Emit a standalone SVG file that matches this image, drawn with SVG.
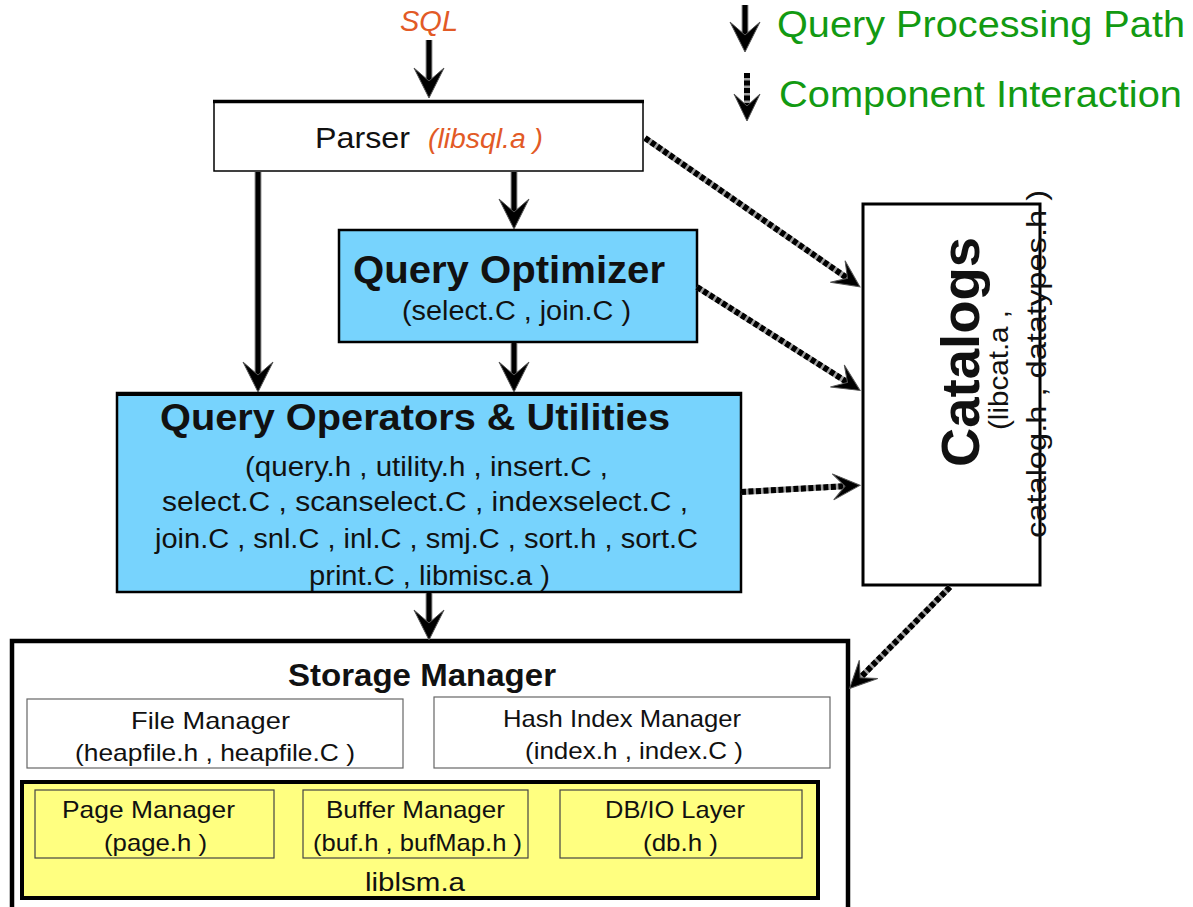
<svg xmlns="http://www.w3.org/2000/svg" width="1193" height="907" viewBox="0 0 1193 907">
<style>
text{font-family:"Liberation Sans",Arial,sans-serif;fill:#111}
.b{font-weight:bold}
.or{fill:#E25A26;font-style:italic}
.gr{fill:#129A12}
.solid{stroke:#000;stroke-width:5;fill:none}
.solidbg{stroke:#9a9a9a;stroke-width:7;fill:none}
.dotbg{stroke:#a0a0a0;stroke-width:6;fill:none}
.dot{stroke:#000;stroke-width:6;stroke-dasharray:5 2.5;fill:none}
.blue{fill:#77D3FD}
.yel{fill:#FFFF80}
</style>
<defs>
<marker id="hs" viewBox="-32 -17 34 34" refX="-14" refY="0" markerWidth="34" markerHeight="34" markerUnits="userSpaceOnUse" orient="auto">
<path d="M0,0 L-30,-15 L-17,0 L-30,15 Z" fill="#000" stroke="#555" stroke-width="1"/>
</marker>
<marker id="hd" viewBox="-30 -15 32 30" refX="-12" refY="0" markerWidth="32" markerHeight="30" markerUnits="userSpaceOnUse" orient="auto">
<path d="M0,0 L-27,-13 L-15,0 L-27,13 Z" fill="#000" stroke="#555" stroke-width="1"/>
</marker>
</defs>

<g id="legend">
<line class="solidbg" x1="745" y1="5" x2="745" y2="38"/>
<line class="solid" x1="745" y1="5" x2="745" y2="38" marker-end="url(#hs)"/>
<text class="gr" x="777" y="37" font-size="37" textLength="408" lengthAdjust="spacingAndGlyphs">Query Processing Path</text>
<line class="dotbg" x1="747" y1="73" x2="747" y2="109"/>
<line class="dot" x1="747" y1="73" x2="747" y2="109" marker-end="url(#hd)"/>
<text class="gr" x="779" y="107" font-size="37" textLength="403" lengthAdjust="spacingAndGlyphs">Component Interaction</text>
</g>

<g id="sql">
<text class="or" x="400" y="31" font-size="29" textLength="58" lengthAdjust="spacingAndGlyphs">SQL</text>
</g>

<g id="parser">
<rect x="214" y="101" width="429" height="70" fill="#fff" stroke="#000" stroke-width="1.5"/>
<line x1="213" y1="101.5" x2="644" y2="101.5" stroke="#000" stroke-width="3.5"/>
<text x="315" y="148" font-size="30" textLength="95" lengthAdjust="spacingAndGlyphs">Parser</text>
<text class="or" x="428" y="148" font-size="27" textLength="115" lengthAdjust="spacingAndGlyphs">(libsql.a )</text>
</g>

<g id="optimizer">
<rect class="blue" x="339" y="230" width="358" height="112" stroke="#000" stroke-width="2.5"/>
<text class="b" x="353" y="283" font-size="38" textLength="312" lengthAdjust="spacingAndGlyphs">Query Optimizer</text>
<text x="402" y="320" font-size="27" textLength="229" lengthAdjust="spacingAndGlyphs">(select.C , join.C )</text>
</g>

<g id="operators">
<rect class="blue" x="117" y="393" width="624" height="199" stroke="#000" stroke-width="2.5"/>
<line x1="116" y1="394" x2="742" y2="394" stroke="#000" stroke-width="4"/>
<text class="b" x="160" y="430" font-size="37" textLength="510" lengthAdjust="spacingAndGlyphs">Query Operators &amp; Utilities</text>
<text x="245" y="476" font-size="27" textLength="363" lengthAdjust="spacingAndGlyphs">(query.h , utility.h , insert.C ,</text>
<text x="162" y="511" font-size="27" textLength="526" lengthAdjust="spacingAndGlyphs">select.C , scanselect.C  , indexselect.C  ,</text>
<text x="155" y="548" font-size="27" textLength="543" lengthAdjust="spacingAndGlyphs">join.C , snl.C , inl.C , smj.C , sort.h , sort.C</text>
<text x="309" y="585" font-size="27" textLength="241" lengthAdjust="spacingAndGlyphs">print.C , libmisc.a )</text>
</g>

<g id="catalogs">
<rect x="863" y="204" width="177" height="381" fill="#fff" stroke="#000" stroke-width="3"/>
<text class="b" transform="translate(979,352) rotate(-90)" text-anchor="middle" font-size="54" textLength="230" lengthAdjust="spacingAndGlyphs">Catalogs</text>
<text transform="translate(1008,370) rotate(-90)" text-anchor="middle" font-size="28" textLength="120" lengthAdjust="spacingAndGlyphs">(libcat.a ,</text>
<text transform="translate(1046,364) rotate(-90)" text-anchor="middle" font-size="28" textLength="348" lengthAdjust="spacingAndGlyphs">catalog.h , datatypes.h )</text>
</g>

<g id="storage">
<rect x="12" y="641" width="836" height="275" fill="#fff" stroke="#000" stroke-width="4.5"/>
<text class="b" x="288" y="686" font-size="32" textLength="268" lengthAdjust="spacingAndGlyphs">Storage Manager</text>
</g>

<g id="filemanager">
<rect x="27" y="699" width="376" height="69" fill="#fff" stroke="#666" stroke-width="1.2"/>
<text x="131" y="729" font-size="24" textLength="159" lengthAdjust="spacingAndGlyphs">File  Manager</text>
<text x="75" y="761" font-size="24" textLength="280" lengthAdjust="spacingAndGlyphs">(heapfile.h  , heapfile.C )</text>
</g>

<g id="hashindex">
<rect x="434" y="697" width="396" height="71" fill="#fff" stroke="#666" stroke-width="1.2"/>
<text x="503" y="727" font-size="24" textLength="238" lengthAdjust="spacingAndGlyphs">Hash Index Manager</text>
<text x="525" y="759" font-size="24" textLength="218" lengthAdjust="spacingAndGlyphs">(index.h , index.C )</text>
</g>

<g id="liblsm">
<rect class="yel" x="22" y="782" width="796" height="116" stroke="#000" stroke-width="4"/>
<text x="365" y="891" font-size="25" textLength="100" lengthAdjust="spacingAndGlyphs">liblsm.a</text>
</g>

<g id="pagemanager">
<rect class="yel" x="35" y="790" width="239" height="68" stroke="#444" stroke-width="1.2"/>
<text x="62" y="818" font-size="24" textLength="173" lengthAdjust="spacingAndGlyphs">Page Manager</text>
<text x="104" y="851" font-size="24" textLength="103" lengthAdjust="spacingAndGlyphs">(page.h )</text>
</g>

<g id="buffermanager">
<rect class="yel" x="303" y="790" width="225" height="68" stroke="#444" stroke-width="1.2"/>
<text x="326" y="818" font-size="24" textLength="179" lengthAdjust="spacingAndGlyphs">Buffer Manager</text>
<text x="313" y="851" font-size="24" textLength="209" lengthAdjust="spacingAndGlyphs">(buf.h , bufMap.h )</text>
</g>

<g id="dbio">
<rect class="yel" x="560" y="790" width="242" height="68" stroke="#444" stroke-width="1.2"/>
<text x="605" y="818" font-size="24" textLength="140" lengthAdjust="spacingAndGlyphs">DB/IO Layer</text>
<text x="643" y="851" font-size="24" textLength="75" lengthAdjust="spacingAndGlyphs">(db.h )</text>
</g>

<g id="connectors">
<g id="solid-arrows">
<line class="solidbg" x1="429" y1="40" x2="429" y2="84"/>
<line class="solid" x1="429" y1="40" x2="429" y2="84" marker-end="url(#hs)"/>
<line class="solidbg" x1="514" y1="172" x2="514" y2="215"/>
<line class="solid" x1="514" y1="172" x2="514" y2="215" marker-end="url(#hs)"/>
<line class="solidbg" x1="258" y1="172" x2="258" y2="378"/>
<line class="solid" x1="258" y1="172" x2="258" y2="378" marker-end="url(#hs)"/>
<line class="solidbg" x1="514" y1="343" x2="514" y2="378"/>
<line class="solid" x1="514" y1="343" x2="514" y2="378" marker-end="url(#hs)"/>
<line class="solidbg" x1="429" y1="593" x2="429" y2="626"/>
<line class="solid" x1="429" y1="593" x2="429" y2="626" marker-end="url(#hs)"/>
</g>
<g id="dotted-arrows">
<line class="dotbg" x1="645" y1="138" x2="850" y2="280"/>
<line class="dot" x1="645" y1="138" x2="850" y2="280" marker-end="url(#hd)"/>
<line class="dotbg" x1="697" y1="287" x2="850" y2="384"/>
<line class="dot" x1="697" y1="287" x2="850" y2="384" marker-end="url(#hd)"/>
<line class="dotbg" x1="741" y1="492" x2="848" y2="486"/>
<line class="dot" x1="741" y1="492" x2="848" y2="486" marker-end="url(#hd)"/>
<line class="dotbg" x1="950" y1="587" x2="858" y2="680"/>
<line class="dot" x1="950" y1="587" x2="858" y2="680" marker-end="url(#hd)"/>
</g>
</g>
</svg>
